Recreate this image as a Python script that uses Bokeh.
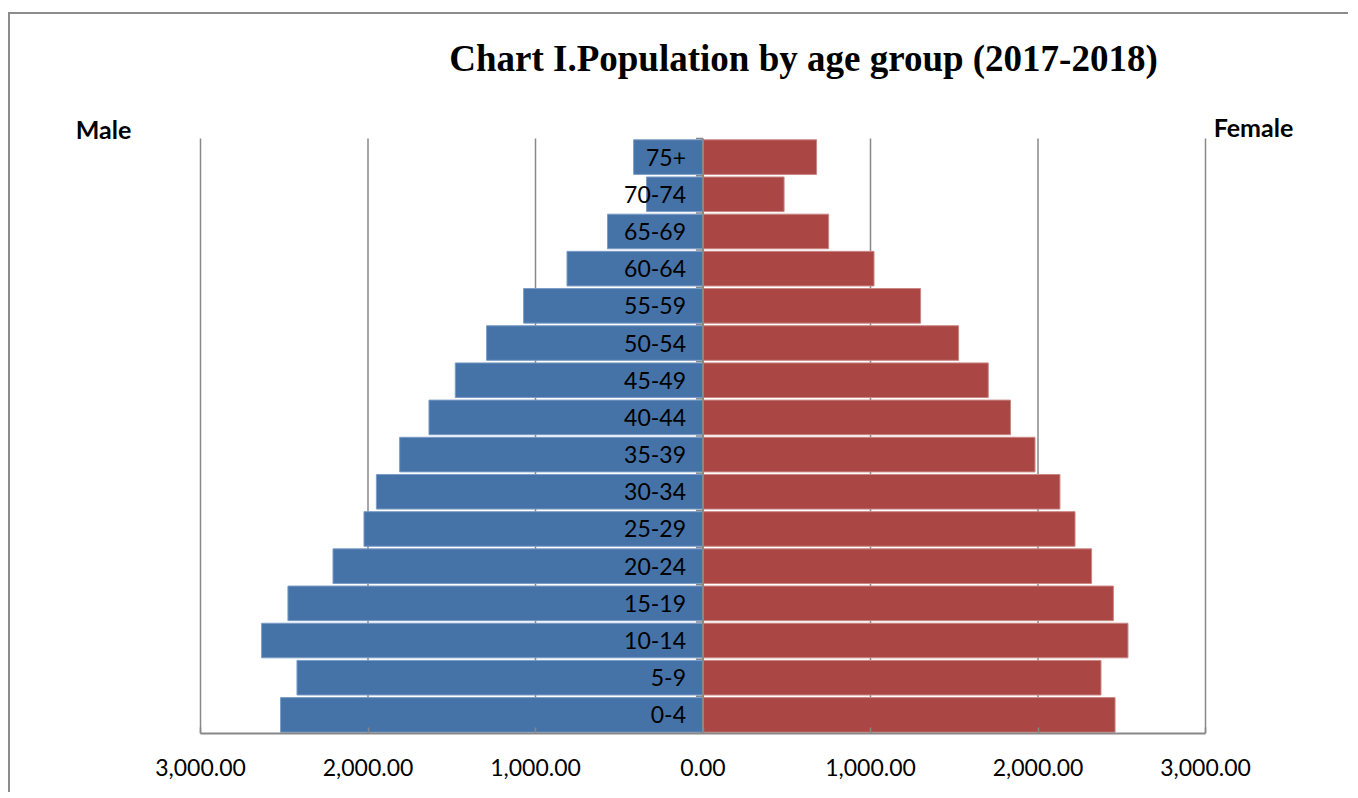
import math
from bokeh.plotting import figure
from bokeh.models import ColumnDataSource, FixedTicker, Range1d, Label
from bokeh.core.properties import value
from bokeh.embed import file_html
from bokeh.resources import INLINE

# ---- data ----
age_groups = ["0-4", "5-9", "10-14", "15-19", "20-24", "25-29", "30-34", "35-39",
              "40-44", "45-49", "50-54", "55-59", "60-64", "65-69", "70-74", "75+"]
male = [2522, 2424, 2635, 2478, 2209, 2024, 1950, 1811,
        1636, 1479, 1292, 1071, 812, 570, 337, 414]
female = [2460, 2376, 2537, 2450, 2320, 2221, 2131, 1982,
          1836, 1703, 1526, 1299, 1021, 750, 484, 678]
x_ticks = [-3000, -2000, -1000, 0, 1000, 2000, 3000]
title_text = "Chart I.Population by age group (2017-2018)"
left_label = "Male"
right_label = "Female"

BLUE = "#4572A7"
RED = "#AA4643"
GRAY = "#888888"

# ---- layout (pixels) ----
W, H = 1340, 780
AXIS_BOTTOM = 61            # space below the frame for the value axis
PLOT_L, PLOT_R = 190, 1195  # pixel positions of -3000 / +3000
PLOT_T = 124                # pixel position of the top of the category band

n = len(age_groups)
frame_h = H - AXIS_BOTTOM
x_per_px = (x_ticks[-1] - x_ticks[0]) / (PLOT_R - PLOT_L)
x_start = x_ticks[0] - PLOT_L * x_per_px
x_end = x_ticks[-1] + (W - PLOT_R) * x_per_px
y_per_px = n / (frame_h - PLOT_T)
y_start = -0.5
y_end = n - 0.5 + PLOT_T * y_per_px

pos = list(range(n))
src = ColumnDataSource(dict(
    y=pos,
    male_left=[-v for v in male],
    female_right=female,
    label=age_groups,
    zero=[0] * n,
))
bounds = ColumnDataSource(dict(
    x=[0] * (n + 1),
    y=[i - 0.5 for i in range(n + 1)],
))
grid_src = ColumnDataSource(dict(
    x=[t for t in x_ticks if t != 0],
    y0=[-0.5] * (len(x_ticks) - 1),
    y1=[n - 0.5] * (len(x_ticks) - 1),
))

p = figure(width=W, height=H, output_backend="svg", toolbar_location=None,
           x_range=Range1d(x_start, x_end), y_range=Range1d(y_start, y_end),
           y_axis_location=None,
           min_border_left=0, min_border_right=0,
           min_border_top=0, min_border_bottom=AXIS_BOTTOM,
           background_fill_color="white", border_fill_color="white",
           outline_line_color=None)
p.styles = {"border-top": "2px solid #8c8c8c", "border-left": "2px solid #8c8c8c",
            "margin-top": "12px", "margin-left": "8px"}
p.xgrid.visible = False
p.ygrid.visible = False

# vertical gridlines at the value ticks
p.segment(x0="x", y0="y0", x1="x", y1="y1", source=grid_src,
          line_color=GRAY, line_width=1.5)

p.hbar(y="y", left="male_left", right="zero", height=0.93, source=src,
       fill_color=BLUE, line_color="#7a9cc6", line_width=1)
p.hbar(y="y", left="zero", right="female_right", height=0.93, source=src,
       fill_color=RED, line_color="#c98683", line_width=1)

# category axis at zero
p.segment(x0=[0], y0=[-0.5], x1=[0], y1=[n - 0.5], line_color=GRAY, line_width=2)
p.ray(x="x", y="y", length=7, length_units="screen", angle=math.pi,
      source=bounds, line_color=GRAY, line_width=1.5)
p.text(x="zero", y="y", text="label", source=src, x_offset=-17,
       text_align="right", text_baseline="middle",
       text_font=value("Lato"), text_font_size="23px", text_color="black")

# value axis
xa = p.xaxis[0]
xa.ticker = FixedTicker(ticks=x_ticks)
xa.bounds = (x_ticks[0], x_ticks[-1])
xa.major_label_overrides = {t: f"{abs(t):,.2f}" for t in x_ticks}
xa.axis_line_color = GRAY
xa.axis_line_width = 2
xa.major_tick_line_color = GRAY
xa.major_tick_line_width = 1.5
xa.major_tick_in = 6
xa.major_tick_out = 0
xa.minor_tick_line_color = None
xa.major_label_standoff = 25
xa.major_label_text_font = "Lato"
xa.major_label_text_font_size = "23px"
xa.major_label_text_color = "black"

# titles (screen units: from the frame's bottom-left corner, y upward)
p.add_layout(Label(x=793, y=frame_h - 44, x_units="screen", y_units="screen",
                   text=title_text, text_align="center", text_baseline="middle",
                   text_font="Liberation Serif", text_font_style="bold",
                   text_font_size="37px", text_color="black"))
p.add_layout(Label(x=93, y=frame_h - 114, x_units="screen", y_units="screen",
                   text=left_label, text_align="center", text_baseline="middle",
                   text_font="Lato", text_font_style="bold",
                   text_font_size="25px", text_color="black"))
p.add_layout(Label(x=1243, y=frame_h - 112, x_units="screen", y_units="screen",
                   text=right_label, text_align="center", text_baseline="middle",
                   text_font="Lato", text_font_style="bold",
                   text_font_size="25px", text_color="black"))

open("out.html", "w").write(file_html(p, INLINE))
